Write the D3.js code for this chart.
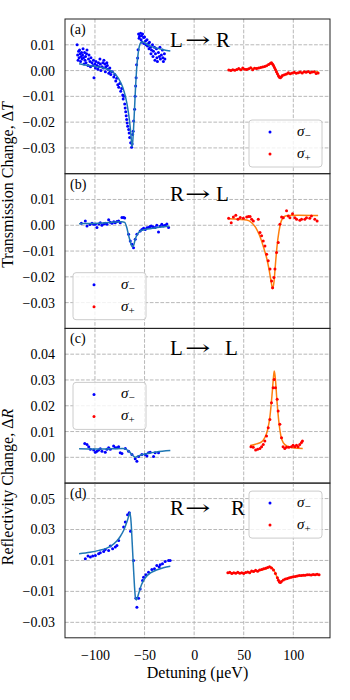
<!DOCTYPE html>
<html>
<head>
<meta charset="utf-8">
<script src="https://cdn.jsdelivr.net/npm/d3@7"></script>
<style>
  body { margin: 0; background: #fff; }
  text { font-family: "Liberation Serif", "DejaVu Serif", serif; fill: #000; }
</style>
</head>
<body>
<div id="chart"></div>
<script>
// Values are in units of 1e-3 (tick labels below show them as fractions)
const detuningTicks = [-100, -50, 0, 50, 100];
const panelLetters = ["(a)", "(b)", "(c)", "(d)"];
const panelTitles = [["L", "R"], ["R", "L"], ["L", "L"], ["R", "R"]];
const yDomains = [[-40, 20], [-40, 20], [-10, 50], [-40, 60]];
const yTickValues = [[10, 0, -10, -20, -30], [10, 0, -10, -20, -30], [40, 30, 20, 10, 0], [50, 30, 10, -10, -30]];
const yTickLabels = [
  ["0.01", "0.00", "\u22120.01", "\u22120.02", "\u22120.03"],
  ["0.01", "0.00", "\u22120.01", "\u22120.02", "\u22120.03"],
  ["0.04", "0.03", "0.02", "0.01", "0.00"],
  ["0.05", "0.03", "0.01", "\u22120.01", "\u22120.03"]
];

// panel (a) L->R
const aMinus = [[-118,10],[-117.5,6],[-117,4],[-116.5,7.5],[-116,5],[-115.5,8],[-115,6.5],[-114.5,3.5],[-114,5.5],[-113.5,7],
  [-113,4.5],[-112.5,6],[-112,8.5],[-111.5,5],[-111,2.5],[-110.5,7],[-110,4],[-109.5,5.5],[-109,3],[-108.5,6.5],[-108,8],
  [-107,2],[-106.5,4.5],[-106,6],[-105,3.5],[-104.5,1.5],[-104,5],[-103,3],[-102,2],[-101.5,4],[-101,-2.8],[-100,2.5],
  [-99.5,1],[-99,3.5],[-98,2],[-97,0.5],[-96.5,3],[-96,1.5],[-95,4.5],[-94.5,2.5],[-94,0],[-93,1.5],[-92,3],[-91.5,1],
  [-91,4],[-90,2.5],[-89.5,-0.5],[-89,1.5],[-88,3],[-87.5,2],[-87,0.5],[-86,-1],[-85,1],[-84.5,-0.3],[-84,-1.5],[-82.5,-0.5],
  [-81,-2.5],[-80,-1.5],[-79,-4],[-78,-3],[-77,-5.5],[-76,-6.5],[-75,-5],[-74,-8],[-73,-7],[-72,-9.5],[-71.5,-11],[-71,-10],
  [-70,-13],[-69.5,-14.5],[-69,-16],[-68.5,-17.5],[-68,-19],[-67.5,-20.3],[-67,-21.6],[-66,-22.9],[-65.5,-24.2],[-65,-26],
  [-64,-28],[-63,-29.7],[-62.5,-28.5],[-62,-24.8],[-61.5,-23.5],[-61,-19.6],[-60,-15],[-59.5,-10],[-59,-6],[-58.5,-2.8],
  [-58,2.3],[-57,4.9],[-56.5,8.1],[-56,14.2],[-55.5,12.5],[-55,13.3],[-54,14.5],[-53.5,12],[-53,13.5],[-52.5,11],[-52,14.2],
  [-51,12.8],[-50.5,10.5],[-50,13],[-49,11.5],[-48.5,10],[-47.5,12],[-47,9.5],[-46,10.5],[-45.5,8.5],[-45,11],[-44,9],
  [-43.5,6.5],[-43,8],[-42,10],[-41.5,5.5],[-41,7.5],[-40,9],[-39.5,4],[-39,6.5],[-38,8.5],[-37.5,5],[-37,3.5],[-36,7],
  [-35,5.5],[-34.5,9],[-34,4.5],[-33,6],[-32,8],[-31.5,5],[-31,3.5],[-30,6.5],[-29.5,4.5]];
const aMinusFit = [[-116,2.6],[-110,2.2],[-100,1.6],[-90,0.8],[-85,0.1],[-80,-1.2],[-76,-3.2],[-72,-6.5],[-69,-10.5],
  [-67,-14.5],[-65,-20],[-63.5,-26],[-62.8,-29.5],[-62,-28],[-61,-22],[-60,-14],[-59,-6],[-58,0.5],[-56.5,6.5],[-55,9.8],
  [-53,11.1],[-51,11],[-48,10.3],[-44,9.5],[-38,8.7],[-30,8],[-24,7.6]];
const aPlus = [[35,0.2],[37,0],[39,0.3],[41,0.1],[43,0.4],[45,0.8],[47,0.3],[49,1],[51,0.5],[53,0.4],[55,0.7],[57,1.1],
  [59,0.3],[61,0.9],[63,0.8],[65,1],[67,1.2],[69,1.4],[71,1.6],[73,1.9],[75,2.4],[77,2.8],[78,3],[79,2.5],[80,2],[81,1.2],
  [82,0.4],[83,-0.5],[84,-1.2],[85,-2],[86,-2.6],[87,-2.8],[88,-2.4],[89,-1.9],[91,-1.6],[93,-1.3],[95,-0.8],[97,-1.2],
  [99,-0.9],[101,-0.7],[103,-1],[105,-0.8],[107,-0.6],[109,-0.9],[111,-0.5],[113,-0.7],[115,-0.4],[117,-0.8],[119,-0.6],
  [121,-0.5],[123,-1.1],[125,-0.9]];
const aPlusFit = [[34,0.1],[45,0.4],[55,0.7],[65,1.1],[72,1.6],[76,2.3],[78.5,2.8],[80,2.2],[82,0.5],[84,-1.2],[86,-2.3],
  [87.5,-2.6],[90,-1.9],[95,-1.3],[105,-0.8],[115,-0.6],[125,-0.5]];

// panel (b) R->L
const bMinus = [[-113.7,0.8],[-109.7,1.7],[-108,-0.3],[-105,0.3],[-103,0.8],[-101.3,0.4],[-99.6,0.4],[-98,-0.9],[-96,0.5],
  [-94.6,1],[-93,0],[-91,0.6],[-89.6,0.8],[-87.9,0.4],[-86.2,2.1],[-84.5,1.2],[-82.8,0.8],[-81,1.4],[-79.5,1],[-77.8,1.5],
  [-76.1,1.7],[-74.5,1],[-72.8,3],[-71.1,3],[-70,2.8],[-66.1,-3.5],[-64.4,-6.1],[-62.7,-7.4],[-61.1,-8.7],[-59.4,-5.4],
  [-57.7,-3.5],[-54.4,-2.2],[-52.7,-1.6],[-51,-1.2],[-49.3,-1.6],[-47.6,-1],[-46,-0.9],[-44.5,-0.5],[-43.3,-0.3],
  [-41.5,-0.6],[-39.3,-0.9],[-37.6,0],[-35.9,-2.6],[-34.2,-0.4],[-32.6,0.4],[-31,-0.3],[-29.2,0],[-27.5,0.5],[-25.8,-0.9]];
const bMinusFit = [[-116,0.6],[-105,0.7],[-96,0.8],[-85,1.1],[-79,1.3],[-73,1.4],[-70,1.1],[-68,-0.8],[-66,-4],[-64,-6.8],
  [-62.5,-8.3],[-61,-7.8],[-59.5,-5.5],[-57,-3.3],[-54,-2.2],[-49,-1.6],[-42,-1.2],[-35,-0.8],[-25,-0.4]];
const bPlus = [[34.8,2.7],[37.4,1],[39.6,3.2],[42,3.9],[44.2,2.3],[46.5,3],[49.6,2.7],[53,3.2],[54.7,3.4],[56.4,3.4],[58,2.3],
  [59.7,1.7],[64.7,2.3],[66.4,-2.8],[68,-4.1],[69.7,-6.1],[71.4,-8],[73.1,-11.2],[74.7,-13.8],[76.5,-17],[78.1,-21.6],
  [79.1,-24.2],[80.5,-20.3],[81.5,-17],[83.1,-10.6],[84.8,-6.7],[86.5,0.4],[88.2,3.2],[89.9,2.9],[93.2,5.6],[94.9,3.6],
  [96.6,2.9],[99.2,4.5],[101.6,2.9],[103.3,2.3],[106.6,1.9],[108.3,2.3],[111.6,2.3],[113.3,2.9],[116.6,2.7],[118.3,3.6],
  [121.7,2.3],[124,1.7]];
const bPlusFit = [[34.5,2.5],[45,2.3],[53,2],[58,1],[62,-0.8],[66,-4],[70,-8.5],[73,-12.5],[75.5,-17],[77.5,-21.5],
  [79.2,-24.6],[80.5,-22],[82,-15],[83.5,-8.5],[85.5,-2.5],[88,1.8],[91,3.4],[95,3.8],[105,3.9],[125,3.8]];

// panel (c) L->L
const cMinus = [[-110.3,5.4],[-108,5],[-106.3,4.1],[-104.6,3.1],[-101.3,2.8],[-99.6,2],[-98,2.4],[-96.3,2.8],[-94.6,3.3],
  [-92.9,2.4],[-89.6,2],[-87.9,3.1],[-86.2,3.7],[-84.5,3.1],[-81.2,4.4],[-79.5,3.7],[-77.8,3.7],[-76.1,4.1],[-74.5,1.8],
  [-72.8,1.5],[-69.4,3.4],[-66.1,2.4],[-62.7,1.1],[-59.4,-0.6],[-57.7,-1.5],[-56,0.3],[-52.7,1.1],[-49.3,1.1],[-47.6,0.5],
  [-46,1.8],[-44.3,2],[-40.9,0.3],[-39.3,1.8],[-35.9,1.8]];
const cMinusFit = [[-116,3.3],[-100,3.2],[-85,3.3],[-72,3.4],[-68,3],[-65,2],[-62,0.8],[-59.5,0],[-57,0.4],[-53,1],
  [-46,1.6],[-38,2.1],[-24,2.6]];
const cPlus = [[57.3,4.1],[59.6,3.9],[62,2.8],[64,3.1],[66.3,3.4],[68,4.1],[69.7,5],[71.3,6.3],[73,8.3],[74.7,11.5],
  [76.4,14.7],[78,21.2],[79.7,27],[80.7,30.2],[82,27],[83.7,22.5],[84.7,18],[86.4,12.8],[88.1,7.6],[89.7,4.1],[91.4,3.4],
  [93.1,3.9],[95.5,3.9],[98.1,4.1],[99.8,4.7],[101.5,4.1],[103.2,4.7],[104.8,4.1],[106.5,5],[108.2,5.7],[109.2,6.3]];
const cPlusFit = [[56.5,4.6],[63,5.2],[68,6],[71,7.5],[74,10.5],[76.5,16],[78.5,24],[80,31],[80.8,33.5],[81.8,31],
  [83.5,22],[85.5,13.5],[87.5,8.2],[90,5.6],[94,4.3],[100,3.7],[109.5,3.4]];

// panel (d) R->R
const dMinus = [[-109.7,11.1],[-107,12.8],[-104.6,12.2],[-102.3,12.8],[-99.6,13.2],[-96.3,14.3],[-94.6,14.9],[-91.2,15.8],
  [-89.6,17.1],[-86.2,16.5],[-84.5,19.3],[-82.2,17.6],[-79.5,18.7],[-77.8,19.7],[-76.1,22.9],[-71.1,31.6],[-69.4,34.9],
  [-67.1,39.6],[-65.4,40.9],[-64.1,28.8],[-61.1,10],[-58.7,-14.4],[-57.7,-20.2],[-56,-14.4],[-54.4,-8.4],[-52,-3],
  [-51,-0.8],[-48.6,0.7],[-46,2.4],[-42.6,4.2],[-40,4.6],[-37.6,6.8],[-35.2,5.7],[-34.2,7.2],[-31.9,7.8],[-29.2,9.4],
  [-25.8,10],[-24.2,10]];
const dMinusFit = [[-116,14.3],[-105,15.3],[-96,16.5],[-88,18],[-83,19.7],[-78,22.5],[-74.5,25.5],[-71,29.5],[-68,34.5],
  [-66,38.5],[-64.6,41],[-63.5,34],[-62.5,22],[-61.3,7],[-60.2,-6],[-59.2,-14],[-58.2,-15.5],[-56,-11.5],[-53,-5.5],
  [-49,-1],[-44,1.9],[-38,3.8],[-31,5.3],[-24,6.3]];
const dPlus = [[34,2],[36,2.3],[38,1.6],[40,2.1],[42,1.8],[44,2.4],[46,1.7],[48,2],[50,1.5],[52,2.2],[54,2.6],[56,2],
  [58,3.2],[60,2.8],[62,3.6],[64,3],[66,3.9],[68,4.2],[70,4.6],[72,5],[74,5.5],[76,5.9],[78,5.2],[80,3.8],[82,1.5],
  [84,-1.2],[85,-2.8],[86,-3.9],[87,-4.2],[88,-3.6],[90,-2.7],[92,-2],[94,-1.6],[96,-1.2],[98,-0.8],[100,-0.5],[102,-0.3],
  [104,-0.1],[106,0.2],[108,0.3],[110,0.5],[112,0.4],[114,0.7],[116,0.8],[118,0.6],[120,0.9],[122,0.7],[124,1],[126,0.8]];
const dPlusFit = [[34,1.9],[45,2],[55,2.4],[63,3.2],[70,4.2],[74,5],[77,5.7],[79,5],[81,3],[83,0],[85,-3],[86.5,-4],
  [88,-3.6],[90,-2.6],[95,-1.4],[100,-0.6],[110,0.3],[125,0.9]];

const minusSets = [aMinus, bMinus, cMinus, dMinus];
const minusFits = [aMinusFit, bMinusFit, cMinusFit, dMinusFit];
const plusSets = [aPlus, bPlus, cPlus, dPlus];
const plusFits = [aPlusFit, bPlusFit, cPlusFit, dPlusFit];

// layout
const width = 350, height = 700;
const left = 65, right = 330, top0 = 19, panelH = 154.7;
const legendPos = [[184, 101], [8, 99], [8, 54], [184, 8]];   // offset inside each panel
const titleDy = [27.7, 27.7, 27, 31.5];
const titleSecondX = [216, 216, 225, 231];   // where the letter after the arrow starts

const svg = d3.select("#chart").append("svg")
    .attr("width", width)
    .attr("height", height);

const x = d3.scaleLinear()
    .domain([-130.2, 137])
    .range([left, right]);

const line = d3.line()
    .x(d => x(d[0]))
    .curve(d3.curveMonotoneX);

for (let i = 0; i < 4; i++) {
    const top = top0 + i * panelH;
    const y = d3.scaleLinear()
        .domain(yDomains[i])
        .range([top + panelH, top]);
    line.y(d => y(d[1]));

    const g = svg.append("g").attr("class", "panel");

    // grid
    g.selectAll(".vgrid")
        .data(detuningTicks)
        .enter().append("line")
        .attr("x1", d => x(d)).attr("x2", d => x(d))
        .attr("y1", top).attr("y2", top + panelH)
        .style("stroke", "#b0b0b0")
        .style("stroke-width", 0.9)
        .style("stroke-dasharray", "3.7,1.6");
    g.selectAll(".hgrid")
        .data(yTickValues[i])
        .enter().append("line")
        .attr("x1", left).attr("x2", right)
        .attr("y1", d => y(d)).attr("y2", d => y(d))
        .style("stroke", "#b0b0b0")
        .style("stroke-width", 0.9)
        .style("stroke-dasharray", "3.7,1.6");

    // y axis labels
    const yAxis = d3.axisLeft(y)
        .tickValues(yTickValues[i])
        .tickFormat((d, k) => yTickLabels[i][k])
        .tickSize(0)
        .tickPadding(10);
    const ya = g.append("g")
        .attr("transform", `translate(${left},0)`)
        .call(yAxis);
    ya.select(".domain").remove();
    ya.selectAll("text").style("font-size", "14px").style("font-family", '"Liberation Serif", serif');

    // data: sigma minus
    g.selectAll(".minus")
        .data(minusSets[i])
        .enter().append("circle")
        .attr("cx", d => x(d[0]))
        .attr("cy", d => y(d[1]))
        .attr("r", 1.5)
        .style("fill", "blue");
    g.append("path")
        .datum(minusFits[i])
        .attr("d", line)
        .style("fill", "none")
        .style("stroke", "#1f77b4")
        .style("stroke-width", 1.5);

    // data: sigma plus
    g.append("path")
        .datum(plusFits[i])
        .attr("d", line)
        .style("fill", "none")
        .style("stroke", "#ff7f0e")
        .style("stroke-width", 1.5);
    g.selectAll(".plus")
        .data(plusSets[i])
        .enter().append("circle")
        .attr("cx", d => x(d[0]))
        .attr("cy", d => y(d[1]))
        .attr("r", 1.5)
        .style("fill", "red");

    // frame
    g.append("rect")
        .attr("x", left).attr("y", top)
        .attr("width", right - left).attr("height", panelH)
        .style("fill", "none")
        .style("stroke", "#222")
        .style("stroke-width", 1);

    // letter and title (arrow stretched a bit, like the LaTeX one)
    g.append("text")
        .attr("x", left + 5).attr("y", top + 15)
        .style("font-size", "14px")
        .text(panelLetters[i]);
    const base = top + titleDy[i];
    g.append("text")
        .attr("x", 170).attr("y", base)
        .style("font-size", "21px")
        .text(panelTitles[i][0]);
    g.append("text")
        .attr("transform", `translate(185,${base}) scale(1.45,1)`)
        .style("font-size", "21px")
        .style("font-family", '"DejaVu Serif", serif')
        .text("\u2192");
    g.append("text")
        .attr("x", titleSecondX[i]).attr("y", base)
        .style("font-size", "21px")
        .text(panelTitles[i][1]);

    // legend
    const lg = g.append("g")
        .attr("transform", `translate(${left + legendPos[i][0]},${top + legendPos[i][1]})`);
    lg.append("rect")
        .attr("width", 73).attr("height", 47)
        .attr("rx", 3)
        .style("fill", "white").style("fill-opacity", 0.8)
        .style("stroke", "#cccccc").style("stroke-width", 1);
    [["blue", "\u2212"], ["red", "+"]].forEach((e, k) => {
        lg.append("circle")
            .attr("cx", 21).attr("cy", 12 + k * 22)
            .attr("r", 1.5)
            .style("fill", e[0]);
        const t = lg.append("text")
            .attr("x", 48).attr("y", 16 + k * 22)
            .style("font-size", "15px");
        t.append("tspan").style("font-style", "italic").text("\u03c3");
        t.append("tspan").attr("dy", 3).style("font-size", "11px").text(e[1]);
    });
}

// x axis on the bottom panel
const bottom = top0 + 4 * panelH;
const xa = svg.append("g")
    .attr("transform", `translate(0,${bottom})`)
    .call(d3.axisBottom(x)
        .tickValues(detuningTicks)
        .tickFormat(d3.format("d"))
        .tickSize(0)
        .tickPadding(12));
xa.select(".domain").remove();
xa.selectAll("text").style("font-size", "14px").style("font-family", '"Liberation Serif", serif');

svg.append("text")
    .attr("x", (left + right) / 2).attr("y", 678)
    .attr("text-anchor", "middle")
    .style("font-size", "16px")
    .text("Detuning (\u03bceV)");

// y labels
const yLabels = [["Transmission Change, ", "T", 185], ["Reflectivity Change, ", "R", 487]];
yLabels.forEach(l => {
    const t = svg.append("text")
        .attr("transform", `translate(13,${l[2]}) rotate(-90)`)
        .attr("text-anchor", "middle")
        .style("font-size", "16px");
    t.append("tspan").text(l[0] + "\u0394");
    t.append("tspan").style("font-style", "italic").text(l[1]);
});
</script>
</body>
</html>
